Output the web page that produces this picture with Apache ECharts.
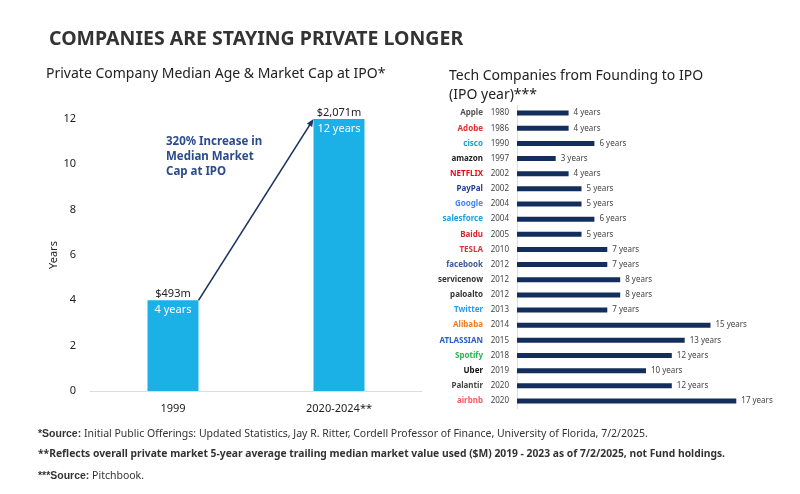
<!DOCTYPE html>
<html>
<head>
<meta charset="utf-8">
<script src="https://cdn.jsdelivr.net/npm/echarts@6/dist/echarts.min.js"></script>
<style>html,body{margin:0;padding:0;background:#fff}#chart{width:800px;height:494px}</style>
</head>
<body>
<div id="chart"></div>
<script>
// left chart
var periods = ['1999', '2020-2024**'];
var medianAge = [4, 12];
var marketCap = ['$493m', '$2,071m'];
// right chart
var companies = ['Apple', 'Adobe', 'cisco', 'amazon', 'NETFLIX', 'PayPal', 'Google', 'salesforce', 'Baidu', 'TESLA',
    'facebook', 'servicenow', 'paloalto', 'Twitter', 'Alibaba', 'ATLASSIAN', 'Spotify', 'Uber', 'Palantir', 'airbnb'];
var ipoYears = ['1980', '1986', '1990', '1997', '2002', '2002', '2004', '2004', '2005', '2010',
    '2012', '2012', '2012', '2013', '2014', '2015', '2018', '2019', '2020', '2020'];
var yearsToIpo = [4, 4, 6, 3, 4, 5, 5, 6, 5, 7, 7, 8, 8, 7, 15, 13, 12, 10, 12, 17];
var brandColors = ['#555', '#e0312b', '#1ba0d7', '#222', '#e50914', '#1f3f8f', '#4285f4', '#1aa0dc', '#d8262c', '#d0353a',
    '#3b5998', '#333', '#333', '#1da1f2', '#f07d1f', '#2460c9', '#1db954', '#111', '#444', '#ff5a5f'];

var myChart = echarts.init(document.getElementById('chart'));
var font = 'Noto Sans';
myChart.setOption({
    animation: false,
    textStyle: {fontFamily: font},
    title: [
        {text: 'COMPANIES ARE STAYING PRIVATE LONGER', left: 44, top: 24,
            textStyle: {fontSize: 19.5, fontWeight: 'bold', color: '#333'}},
        {text: 'Private Company Median Age & Market Cap at IPO*', left: 41, top: 62,
            textStyle: {fontSize: 14, fontWeight: 'normal', color: '#222'}},
        {text: 'Tech Companies from Founding to IPO\n(IPO year)***', left: 444, top: 62,
            textStyle: {fontSize: 14, fontWeight: 'normal', color: '#222', lineHeight: 19}}
    ],
    grid: [
        {left: 90, right: 378, top: 119, bottom: 103},
        {left: 517, right: 25, top: 105.5, bottom: 85.5}
    ],
    xAxis: [
        {type: 'category', gridIndex: 0, data: periods,
            axisLine: {lineStyle: {color: '#ddd'}}, axisTick: {show: false},
            axisLabel: {color: '#222', fontSize: 11, margin: 12}},
        {type: 'value', gridIndex: 1, min: 0, max: 20, show: false}
    ],
    yAxis: [
        {type: 'value', gridIndex: 0, min: 0, max: 12, interval: 2,
            name: 'Years', nameLocation: 'middle', nameGap: 30, nameRotate: 90,
            nameTextStyle: {color: '#222', fontSize: 11},
            splitLine: {show: false}, axisLine: {show: false}, axisTick: {show: false},
            axisLabel: {color: '#222', fontSize: 11, margin: 14}},
        {type: 'category', gridIndex: 1, inverse: true, data: companies,
            axisLine: {lineStyle: {color: '#ddd'}}, axisTick: {show: false},
            axisLabel: {
                margin: 8, interval: 0, hideOverlap: false,
                formatter: function (v, i) {
                    return '{c' + i + '|' + v + '}{y|' + ipoYears[i] + '}';
                },
                rich: (function () {
                    var r = {y: {fontSize: 8, color: '#444', width: 26, align: 'right'}};
                    for (var k = 0; k < companies.length; k++) {
                        r['c' + k] = {fontSize: 8, fontWeight: 'bold', color: brandColors[k]};
                    }
                    return r;
                })()
            }}
    ],
    series: [
        {type: 'bar', xAxisIndex: 0, yAxisIndex: 0, data: medianAge, barWidth: 51,
            itemStyle: {color: '#1bb0e6'},
            label: {show: true, position: 'top', distance: 1, color: '#222', fontSize: 11,
                formatter: function (p) { return marketCap[p.dataIndex]; }}},
        {type: 'bar', xAxisIndex: 0, yAxisIndex: 0, data: medianAge, barWidth: 51, barGap: '-100%',
            itemStyle: {color: 'transparent'},
            label: {show: true, position: 'insideTop', distance: 4, color: '#fff', fontSize: 11,
                formatter: function (p) { return p.value + ' years'; }}},
        {type: 'bar', xAxisIndex: 1, yAxisIndex: 1, data: yearsToIpo, barWidth: 5,
            itemStyle: {color: '#132e5c'},
            label: {show: true, position: 'right', distance: 5, color: '#444', fontSize: 8,
                formatter: function (p) { return p.value + ' years'; }}}
    ]
});

// arrow from top of first bar to top of second bar
var p1 = myChart.convertToPixel({xAxisIndex: 0, yAxisIndex: 0}, [0, medianAge[0]]);
var p2 = myChart.convertToPixel({xAxisIndex: 0, yAxisIndex: 0}, [1, medianAge[1]]);
var x1 = p1[0] + 25.5, y1 = p1[1], x2 = p2[0] - 25.5, y2 = p2[1];
var ang = Math.atan2(y2 - y1, x2 - x1);
var hl = 8;
myChart.setOption({
    graphic: [
        {type: 'line', shape: {x1: x1, y1: y1, x2: x2 - Math.cos(ang) * 4, y2: y2 - Math.sin(ang) * 4},
            style: {stroke: '#1d3461', lineWidth: 1.6}},
        {type: 'polygon', shape: {points: [[x2, y2],
            [x2 - hl * Math.cos(ang - 0.4), y2 - hl * Math.sin(ang - 0.4)],
            [x2 - hl * Math.cos(ang + 0.4), y2 - hl * Math.sin(ang + 0.4)]]},
            style: {fill: '#1d3461'}},
        {type: 'text', left: 166, top: 134,
            style: {text: '320% Increase in\nMedian Market\nCap at IPO', fill: '#2a4b8d',
                font: 'bold 11.5px "Noto Sans"', lineHeight: 15}},
        {type: 'text', left: 38, top: 429,
            style: {text: '{b|*Source:} Initial Public Offerings: Updated Statistics, Jay R. Ritter, Cordell Professor of Finance, University of Florida, 7/2/2025.',
                rich: {b: {fontWeight: 'bold', fontSize: 10.5, fill: '#333'}}, fill: '#333', font: '10.5px "Noto Sans"'}},
        {type: 'text', left: 38, top: 449,
            style: {text: '**Reflects overall private market 5-year average trailing median market value used ($M) 2019 - 2023 as of 7/2/2025, not Fund holdings.',
                fill: '#333', font: 'bold 10.3px "Noto Sans"'}},
        {type: 'text', left: 38, top: 471,
            style: {text: '{b|***Source:} Pitchbook.',
                rich: {b: {fontWeight: 'bold', fontSize: 10.5, fill: '#333'}}, fill: '#333', font: '10.5px "Noto Sans"'}}
    ]
});
</script>
</body>
</html>
